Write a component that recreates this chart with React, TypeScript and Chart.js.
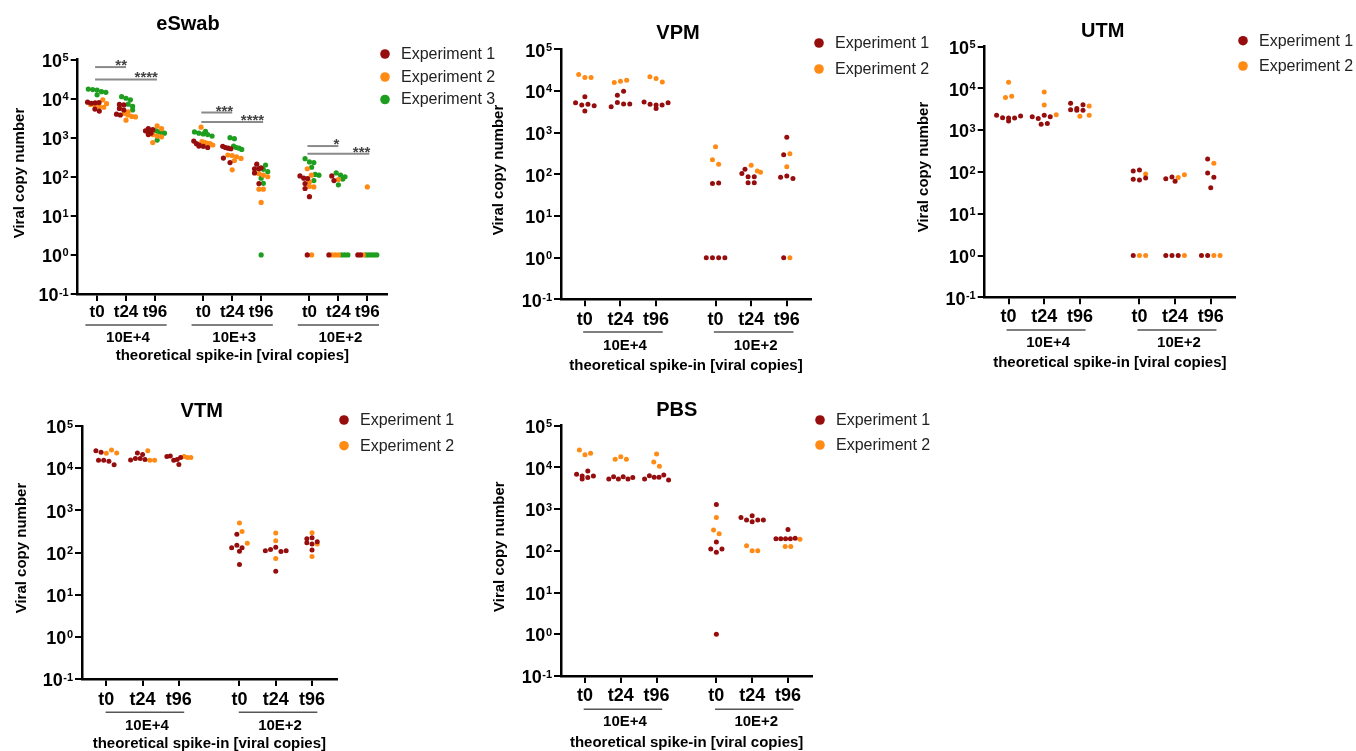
import React, { useEffect, useRef } from 'react';
import { Chart, registerables } from 'chart.js';

Chart.register(...registerables);

const W = 1356;
const H = 751;
const FONT = '"Liberation Sans", Arial, Helvetica, sans-serif';
const TL = 7; // tick length
const GAP = 0.67; // extra gap between spike-in groups (category units)

// ---------- shared labels ----------
const timeLabels = ['t0', 't24', 't96'];
const expLabels = ['Experiment 1', 'Experiment 2', 'Experiment 3'];
const expColors = ['#960d0d', '#ff8a14', '#1e9e1e'];
const yExponents = [-1, 0, 1, 2, 3, 4, 5];
const yTitle = 'Viral copy number';
const xTitle = 'theoretical spike-in [viral copies]';

// ---------- eSwab ----------
const eswabGroups = ['10E+4', '10E+3', '10E+2'];
const eswabExp1 = [
  [8100, 7600, 7800, 7900, 5400, 4800],
  [7100, 6900, 5600, 5100, 4000, 3800],
  [1700, 1600, 1500, 1400, 1300, 1200],
  [820, 700, 650, 610, 600, 560],
  [600, 560, 540, 520, 300, 230],
  [210, 170, 160, 160, 125, 67],
  [105, 92, 90, 67, 50, 31, 1],
  [105, 80, 1],
  [1, 1],
];
const eswabExp2 = [
  [9300, 7400, 7100, 7000, 6300, 6000],
  [4600, 4200, 3800, 3500, 3400, 2800],
  [2000, 1700, 1200, 1100, 1050, 750],
  [1850, 790, 760, 720, 700, 650],
  [360, 350, 325, 295, 260, 150],
  [120, 110, 100, 48, 48, 22],
  [160, 110, 75, 57, 55, 1],
  [85, 1, 1, 1],
  [55, 1],
];
const eswabExp3 = [
  [17500, 17000, 16500, 15000, 14500, 12500],
  [11200, 10200, 9300, 7200, 6300, 5100],
  [1550, 1500, 1400, 1350, 1300, 870],
  [1450, 1400, 1300, 1250, 1200, 1100],
  [1000, 940, 610, 560, 540, 500],
  [200, 155, 135, 92, 68, 1],
  [290, 240, 230, 175, 115, 110, 80],
  [125, 110, 100, 87, 62, 1, 1, 1],
  [1, 1, 1, 1, 1],
];
const eswabSigLabels = ['**', '****', '***', '****', '*', '***'];

// ---------- VPM ----------
const twoGroups = ['10E+4', '10E+2'];
const vpmExp1 = [
  [5200, 7300, 4600, 4800, 4400, 3300],
  [4200, 7900, 9800, 5300, 4900, 4900],
  [5400, 3800, 4800, 4600, 4600, 5200],
  [60, 62, 1, 1, 1, 1],
  [105, 132, 87, 87, 63, 63],
  [780, 295, 85, 91, 79, 1],
];
const vpmExp2 = [
  [25000, 21000, 21000],
  [16000, 17000, 18000],
  [22000, 20000, 16500],
  [460, 225, 175],
  [112, 165, 120],
  [310, 152, 1],
];

// ---------- UTM ----------
const utmExp1 = [
  [2300, 2000, 1660, 1950, 1950, 2200],
  [2100, 1900, 2300, 2100, 1400, 1440],
  [4400, 3100, 3000, 3300, 4100, 3000],
  [105, 67, 64, 112, 72, 1],
  [60, 69, 76, 1, 1, 1],
  [205, 95, 75, 42, 1, 1],
];
const utmExp2 = [
  [14000, 6100, 6500],
  [8200, 4000, 2350],
  [3800, 2150, 2300],
  [89, 1, 1],
  [74, 86, 1],
  [162, 1, 1],
];

// ---------- VTM ----------
const vtmExp1 = [
  [26000, 24000, 15500, 15500, 14500, 12000],
  [23000, 21000, 15600, 17000, 17000, 16000],
  [19000, 19500, 15500, 12300, 16000, 17800],
  [130, 270, 148, 107, 52, 129],
  [110, 117, 133, 105, 110, 36],
  [213, 225, 170, 160, 180, 115],
];
const vtmExp2 = [
  [22500, 27000, 23000],
  [26000, 15500, 15500],
  [19000, 18000, 18000],
  [500, 315, 165],
  [290, 190, 72],
  [295, 160, 80],
];

// ---------- PBS ----------
const pbsExp1 = [
  [6900, 5300, 6200, 8200, 5700, 6200],
  [5300, 6000, 5300, 6000, 5300, 5700],
  [5300, 6300, 5800, 5800, 6600, 5000],
  [1300, 163, 110, 93, 110, 1],
  [630, 500, 550, 690, 550, 550],
  [325, 195, 195, 195, 195, 200],
];
const pbsExp2 = [
  [26000, 20000, 22000],
  [15600, 18000, 15600],
  [13500, 10700, 21000],
  [630, 316, 258],
  [132, 100, 100],
  [190, 128, 128],
];

// ---------- layout (positions / styles only) ----------
type Sig = { g: number; to: number; y: number; label: string };
type Panel = {
  title: string;
  groups: string[];
  series: number[][][];
  plot: { l: number; t: number; r: number; b: number };
  titlePos: [number, number];
  yLabelPos: [number, number];
  legendX: number;
  legendY: number[];
  tickDy: number;
  underDy: number;
  groupDy: number;
  xTitleDy: number;
  underL: number;
  underR: number;
  tickFont: number;
  spacing: number;
  maxRow: number;
  radius: number;
  sig?: Sig[];
};

const panels: Panel[] = [
  {
    title: 'eSwab', groups: eswabGroups, series: [eswabExp1, eswabExp2, eswabExp3],
    plot: { l: 77.7, t: 59.5, r: 387, b: 294 },
    titlePos: [188, 24], yLabelPos: [20, 173],
    legendX: 385, legendY: [54, 77, 99.5],
    tickDy: 18.7, underDy: 31, groupDy: 44, xTitleDy: 62, underL: -11.7, underR: 11.7,
    tickFont: 17, spacing: 4.4, maxRow: 19, radius: 2.6,
    sig: [
      { g: 0, to: 1, y: 64000, label: eswabSigLabels[0] },
      { g: 0, to: 2, y: 31000, label: eswabSigLabels[1] },
      { g: 1, to: 1, y: 4400, label: eswabSigLabels[2] },
      { g: 1, to: 2, y: 2500, label: eswabSigLabels[3] },
      { g: 2, to: 1, y: 610, label: eswabSigLabels[4] },
      { g: 2, to: 2, y: 390, label: eswabSigLabels[5] },
    ],
  },
  {
    title: 'VPM', groups: twoGroups, series: [vpmExp1, vpmExp2],
    plot: { l: 561, t: 49.3, r: 811, b: 299.3 },
    titlePos: [678, 33], yLabelPos: [499, 170],
    legendX: 819, legendY: [43, 69],
    tickDy: 20.7, underDy: 32.7, groupDy: 46.7, xTitleDy: 66.7, underL: -1.7, underR: 6.7,
    tickFont: 18, spacing: 6.2, maxRow: 24, radius: 2.5,
  },
  {
    title: 'UTM', groups: twoGroups, series: [utmExp1, utmExp2],
    plot: { l: 984.7, t: 46.7, r: 1235, b: 297.3 },
    titlePos: [1102.7, 31.7], yLabelPos: [924, 167],
    legendX: 1243, legendY: [40.7, 66],
    tickDy: 19.4, underDy: 32.7, groupDy: 45.4, xTitleDy: 66, underL: -2, underR: 5.7,
    tickFont: 18, spacing: 6.2, maxRow: 24, radius: 2.5,
  },
  {
    title: 'VTM', groups: twoGroups, series: [vtmExp1, vtmExp2],
    plot: { l: 82, t: 426, r: 336.7, b: 679 },
    titlePos: [201.7, 411], yLabelPos: [21.7, 548],
    legendX: 344, legendY: [420, 445.7],
    tickDy: 21, underDy: 33.3, groupDy: 46.7, xTitleDy: 65, underL: -0.7, underR: 5.3,
    tickFont: 18, spacing: 5.2, maxRow: 24, radius: 2.5,
  },
  {
    title: 'PBS', groups: twoGroups, series: [pbsExp1, pbsExp2],
    plot: { l: 561, t: 425.7, r: 812.3, b: 676 },
    titlePos: [676.7, 410.7], yLabelPos: [500, 546.7],
    legendX: 820, legendY: [420, 445],
    tickDy: 20, underDy: 33.3, groupDy: 46.3, xTitleDy: 66.7, underL: -1.3, underR: 5.6,
    tickFont: 18, spacing: 5.6, maxRow: 24, radius: 2.5,
  },
];

const catPos = (ci: number) => Math.floor(ci / 3) * (3 + GAP) + (ci % 3);

// beeswarm: spread points of the same category into centred rows
function makeSwarm(p: Panel) {
  return {
    id: 'swarm',
    afterDatasetsUpdate(chart: any) {
      const groups = new Map<number, any[]>();
      chart.data.datasets.forEach((ds: any, di: number) => {
        const meta = chart.getDatasetMeta(di);
        meta.data.forEach((el: any, i: number) => {
          const key = ds.data[i].x;
          if (!groups.has(key)) groups.set(key, []);
          groups.get(key)!.push({ el, y: el.y, x0: chart.scales.x.getPixelForValue(key), ord: di * 100 + i });
        });
      });
      groups.forEach((list) => {
        list.sort((a, b) => a.y - b.y);
        const rows: any[][] = [];
        let cur: any[] = [];
        let start = -1e9;
        for (const pt of list) {
          if (pt.y - start > p.spacing * 0.95) {
            if (cur.length) rows.push(cur);
            cur = [pt];
            start = pt.y;
          } else cur.push(pt);
        }
        if (cur.length) rows.push(cur);
        rows.forEach((row) => {
          row.sort((a, b) => a.ord - b.ord);
          const n = row.length;
          const sp = n > 1 ? Math.min(p.spacing, p.maxRow / (n - 1)) : 0;
          row.forEach((pt, k) => {
            pt.el.x = pt.x0 + (k - (n - 1) / 2) * sp;
          });
        });
      });
    },
  };
}

function makeDecor(p: Panel) {
  return {
    id: 'decor',
    afterDraw(chart: any) {
      const ctx = chart.ctx as CanvasRenderingContext2D;
      const xs = chart.scales.x;
      const ys = chart.scales.y;
      const { l, r, b } = p.plot;
      ctx.save();
      ctx.fillStyle = '#000';

      // title
      ctx.font = `bold 20px ${FONT}`;
      ctx.textAlign = 'center';
      ctx.textBaseline = 'middle';
      ctx.fillText(p.title, p.titlePos[0], p.titlePos[1]);

      // y tick labels 10^n
      yExponents.forEach((e) => {
        const py = ys.getPixelForValue(Math.pow(10, e));
        const ex = e < 0 ? '-' + -e : String(e);
        ctx.textAlign = 'right';
        ctx.textBaseline = 'alphabetic';
        ctx.font = `bold 11px ${FONT}`;
        const xr = l - 9;
        ctx.fillText(ex, xr, py + 1.5);
        const ew = ctx.measureText(ex).width;
        ctx.font = `bold 18px ${FONT}`;
        ctx.fillText('10', xr - ew - 0.5, py + 7.2);
      });

      // y title
      ctx.save();
      ctx.translate(p.yLabelPos[0], p.yLabelPos[1]);
      ctx.rotate(-Math.PI / 2);
      ctx.font = `bold 15px ${FONT}`;
      ctx.textAlign = 'center';
      ctx.textBaseline = 'middle';
      ctx.fillText(yTitle, 0, 0);
      ctx.restore();

      // x tick labels, group underlines, group labels
      ctx.textAlign = 'center';
      ctx.textBaseline = 'middle';
      p.groups.forEach((g, gi) => {
        ctx.font = `bold ${p.tickFont}px ${FONT}`;
        ctx.fillStyle = '#000';
        timeLabels.forEach((t, ti) => {
          ctx.fillText(t, xs.getPixelForValue(catPos(gi * 3 + ti)), b + p.tickDy);
        });
        const x0 = xs.getPixelForValue(catPos(gi * 3)) + p.underL;
        const x1 = xs.getPixelForValue(catPos(gi * 3 + 2)) + p.underR;
        ctx.strokeStyle = '#555';
        ctx.lineWidth = 1.5;
        ctx.beginPath();
        ctx.moveTo(x0, b + p.underDy);
        ctx.lineTo(x1, b + p.underDy);
        ctx.stroke();
        ctx.font = `bold 15px ${FONT}`;
        ctx.fillText(g, (x0 + x1) / 2 + 2, b + p.groupDy);
      });

      // x title
      ctx.font = `bold 15px ${FONT}`;
      ctx.fillText(xTitle, (l + r) / 2, b + p.xTitleDy);

      // legend
      chart.data.datasets.forEach((ds: any, i: number) => {
        const y = p.legendY[i];
        ctx.fillStyle = ds.backgroundColor;
        ctx.beginPath();
        ctx.arc(p.legendX, y, 4.8, 0, Math.PI * 2);
        ctx.fill();
        ctx.fillStyle = '#222';
        ctx.font = `16px ${FONT}`;
        ctx.textAlign = 'left';
        ctx.textBaseline = 'middle';
        ctx.fillText(ds.label, p.legendX + 16, y + 0.5);
      });

      // significance bars
      (p.sig || []).forEach((s) => {
        const x0 = xs.getPixelForValue(catPos(s.g * 3)) - 2;
        const x1 = xs.getPixelForValue(catPos(s.g * 3 + s.to)) + (s.to === 2 ? 2 : 0);
        const y = ys.getPixelForValue(s.y);
        ctx.strokeStyle = '#8a8a8a';
        ctx.lineWidth = 2;
        ctx.beginPath();
        ctx.moveTo(x0, y);
        ctx.lineTo(x1, y);
        ctx.stroke();
        ctx.fillStyle = '#444';
        ctx.font = `bold 15px ${FONT}`;
        ctx.textAlign = 'right';
        ctx.textBaseline = 'alphabetic';
        ctx.fillText(s.label, x1 + 1, y + 3);
      });
      ctx.restore();
    },
  };
}

function buildConfig(p: Panel): any {
  const nCat = p.groups.length * 3;
  const positions = Array.from({ length: nCat }, (_, i) => catPos(i));
  const decades = yExponents.map((e) => Math.pow(10, e));
  const datasets = p.series.map((cats, e) => ({
    label: expLabels[e],
    data: cats.flatMap((vals, ci) => vals.map((v) => ({ x: catPos(ci), y: v }))),
    backgroundColor: expColors[e],
    borderWidth: 0,
    pointRadius: p.radius,
    pointHoverRadius: p.radius,
  }));
  const axisGrid = { display: true, drawOnChartArea: false, drawTicks: true, tickLength: TL, color: '#000', lineWidth: 2 };
  const axisBorder = { display: true, color: '#000', width: 2.5 };
  return {
    type: 'scatter',
    data: { datasets },
    options: {
      responsive: false,
      animation: false,
      events: [],
      layout: {
        autoPadding: false,
        padding: { left: p.plot.l - TL, top: p.plot.t, right: W - p.plot.r, bottom: H - p.plot.b - TL },
      },
      plugins: { legend: { display: false }, title: { display: false }, tooltip: { enabled: false } },
      scales: {
        x: {
          type: 'linear',
          min: -0.67,
          max: positions[positions.length - 1] + 0.68,
          afterBuildTicks: (s: any) => { s.ticks = positions.map((v) => ({ value: v })); },
          ticks: { display: false },
          grid: axisGrid,
          border: axisBorder,
        },
        y: {
          type: 'logarithmic',
          min: 0.1,
          max: 1e5,
          afterBuildTicks: (s: any) => { s.ticks = decades.map((v) => ({ value: v })); },
          ticks: { display: false },
          grid: axisGrid,
          border: axisBorder,
        },
      },
    },
    plugins: [makeSwarm(p), makeDecor(p)],
  };
}

function PanelChart({ panel }: { panel: Panel }) {
  const ref = useRef<HTMLCanvasElement>(null);
  useEffect(() => {
    const chart = new Chart(ref.current as HTMLCanvasElement, buildConfig(panel));
    return () => chart.destroy();
  }, [panel]);
  return (
    <canvas
      ref={ref}
      width={W}
      height={H}
      style={{ position: 'absolute', left: 0, top: 0, width: W, height: H }}
    />
  );
}

export default function App() {
  return (
    <div style={{ position: 'absolute', left: 0, top: 0, width: W, height: H, background: '#fff', overflow: 'hidden' }}>
      {panels.map((p) => (
        <PanelChart key={p.title} panel={p} />
      ))}
    </div>
  );
}
